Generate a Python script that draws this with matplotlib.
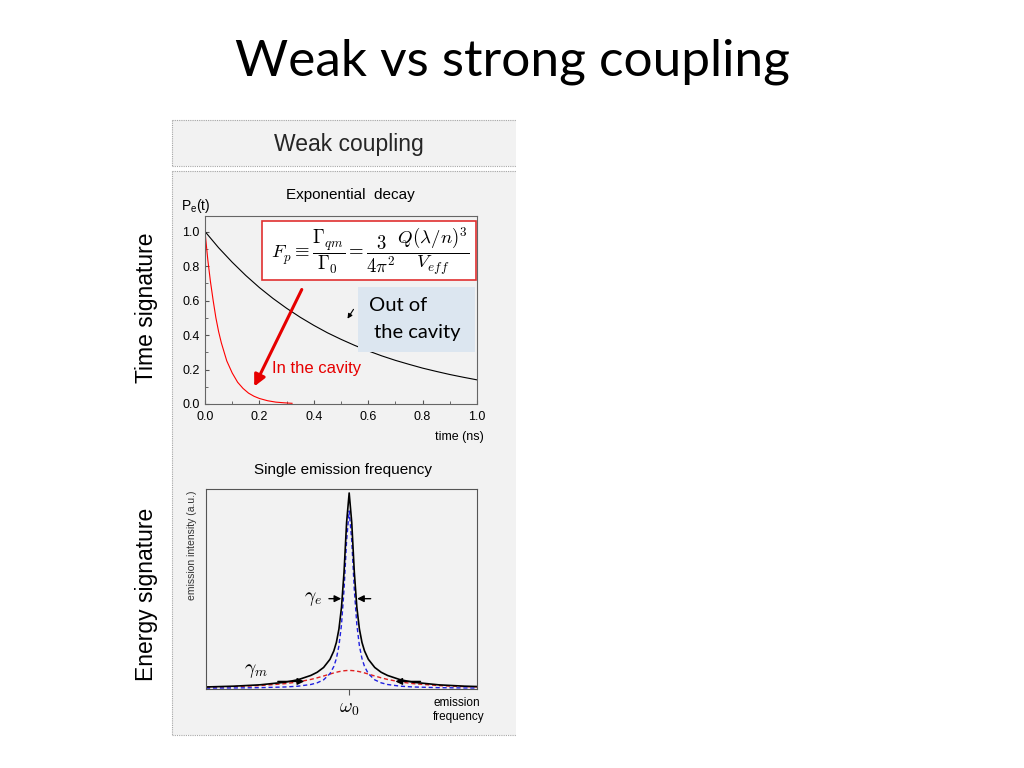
import matplotlib.pyplot as plt
from matplotlib.patches import Rectangle, FancyArrowPatch
from matplotlib.lines import Line2D
from matplotlib.ticker import MultipleLocator

# --- data ---
# exponential decay, out of the cavity (black)
t_out = [0.0, 0.05, 0.10, 0.15, 0.20, 0.25, 0.30, 0.35, 0.40, 0.45, 0.50,
         0.55, 0.60, 0.65, 0.70, 0.75, 0.80, 0.85, 0.90, 0.95, 1.00]
p_out = [1.0, 0.906, 0.822, 0.745, 0.675, 0.612, 0.555, 0.503, 0.456, 0.413, 0.375,
         0.340, 0.308, 0.279, 0.253, 0.230, 0.208, 0.189, 0.171, 0.155, 0.14]

# exponential decay, in the cavity (red)
t_in = [0.0, 0.01, 0.02, 0.03, 0.04, 0.05, 0.06, 0.08, 0.10, 0.12, 0.14,
        0.16, 0.18, 0.20, 0.23, 0.26, 0.29, 0.32]
p_in = [1.0, 0.84, 0.71, 0.60, 0.50, 0.42, 0.355, 0.25, 0.18, 0.126, 0.09,
        0.063, 0.045, 0.032, 0.019, 0.011, 0.007, 0.004]

# emission spectrum (frequency offset from omega_0, arbitrary units)
freq = [-1.12, -0.9, -0.7, -0.5, -0.4, -0.3, -0.25, -0.2, -0.15, -0.12, -0.1,
        -0.08, -0.06, -0.04, -0.02, 0.0, 0.02, 0.04, 0.06, 0.08, 0.1, 0.12,
        0.15, 0.2, 0.25, 0.3, 0.4, 0.5, 0.7, 0.9, 1.12]
narrow_half = [0.89, 0.743, 0.497, 0.320, 0.214, 0.150, 0.110, 0.074, 0.043,
               0.028, 0.0196, 0.0111, 0.0072, 0.0037, 0.0022, 0.0014]
broad_half = [0.09, 0.0896, 0.0884, 0.0865, 0.084, 0.081, 0.0776, 0.072, 0.0623,
              0.0531, 0.045, 0.0324, 0.0238, 0.0141, 0.009, 0.0058]
total_half = [0.98, 0.833, 0.585, 0.407, 0.298, 0.231, 0.188, 0.146, 0.105,
              0.081, 0.065, 0.0435, 0.031, 0.0178, 0.0112, 0.0072]
narrow = narrow_half[:0:-1] + narrow_half
broad = broad_half[:0:-1] + broad_half
total = total_half[:0:-1] + total_half

panel_gray = "#f2f2f2"
border_gray = "#a6a6a6"
arial = "Liberation Sans"

fig = plt.figure(figsize=(10.24, 7.68), dpi=100)


def fx(px):
    return px / 1024


def fy(py):
    return 1 - py / 768


# slide title
fig.text(0.5, fy(62), "Weak vs strong coupling", ha="center", va="center",
         fontsize=37, family="Lato")

# gray panels
fig.patches.append(Rectangle((fx(172), fy(166)), fx(344), 46 / 768,
                             transform=fig.transFigure, facecolor=panel_gray,
                             edgecolor="none", zorder=-2))
fig.patches.append(Rectangle((fx(172), fy(735)), fx(344), 564 / 768,
                             transform=fig.transFigure, facecolor=panel_gray,
                             edgecolor="none", zorder=-2))
for (x0, y0, x1, y1) in [(172, 120, 516, 120), (172, 120, 172, 166), (172, 166, 516, 166),
                         (172, 171, 516, 171), (172, 171, 172, 735), (172, 735, 516, 735)]:
    fig.lines.append(Line2D([fx(x0), fx(x1)], [fy(y0), fy(y1)], transform=fig.transFigure,
                            color=border_gray, lw=0.8, ls=(0, (1, 1)), zorder=-1))

fig.text(fx(349), fy(145), "Weak coupling", ha="center", va="center",
         fontsize=16.5, family=arial, color="#262626")

fig.text(fx(146), fy(308), "Time signature", ha="center", va="center",
         rotation=90, fontsize=16.5, family=arial)
fig.text(fx(146), fy(594), "Energy signature", ha="center", va="center",
         rotation=90, fontsize=16.5, family=arial)

# --- top: exponential decay ---
ax1 = fig.add_axes([fx(205), fy(404), fx(272), 188 / 768])
ax1.set_facecolor(panel_gray)
ax1.plot(t_out, p_out, color="black", lw=0.8)
ax1.plot(t_in, p_in, color="red", lw=0.8)
ax1.set_xlim(0, 1.0)
ax1.set_ylim(0, 1.09)
ax1.xaxis.set_major_locator(MultipleLocator(0.2))
ax1.xaxis.set_minor_locator(MultipleLocator(0.1))
ax1.yaxis.set_major_locator(MultipleLocator(0.2))
ax1.yaxis.set_minor_locator(MultipleLocator(0.1))
ax1.set_yticks([0.0, 0.2, 0.4, 0.6, 0.8, 1.0])
ax1.xaxis.set_major_formatter(plt.FormatStrFormatter("%.1f"))
ax1.yaxis.set_major_formatter(plt.FormatStrFormatter("%.1f"))
ax1.tick_params(which="both", direction="in", labelsize=9, color="#555555")
ax1.tick_params(which="major", length=3)
ax1.tick_params(which="minor", length=2)
ax1.tick_params(axis="x", pad=5)
ax1.tick_params(axis="y", pad=4)
for lab in ax1.get_xticklabels() + ax1.get_yticklabels():
    lab.set_family(arial)
for side in ax1.spines.values():
    side.set_color("#666666")
    side.set_linewidth(0.8)

fig.text(fx(350), fy(195), "Exponential  decay", ha="center", va="center",
         fontsize=11, family=arial)
fig.text(fx(181), fy(206), r"P$_\mathregular{e}$(t)", ha="left", va="center",
         fontsize=10, family=arial)
fig.text(fx(484), fy(437), "time (ns)", ha="right", va="center",
         fontsize=9, family=arial)

formula = (r"$F_p \equiv \dfrac{\Gamma_{qm}}{\Gamma_0} = "
           r"\dfrac{3}{4\pi^2}\dfrac{Q(\lambda/n)^3}{V_{eff}}$")
fig.patches.append(Rectangle((fx(262), fy(280)), fx(214), 59 / 768,
                             transform=fig.transFigure, facecolor="white",
                             edgecolor="#e03030", lw=1.2, zorder=3))
fig.text(fx(370), fy(251), formula, ha="center", va="center", fontsize=13.5,
         math_fontfamily="cm", zorder=4)

fig.patches.append(Rectangle((fx(358), fy(352)), fx(117), 65 / 768,
                             transform=fig.transFigure, facecolor="#dce6f0",
                             edgecolor="none", zorder=3))
fig.text(fx(369), fy(319), "Out of\n the cavity", ha="left", va="center",
         fontsize=14.5, family="Lato", linespacing=1.65, zorder=4)

fig.patches.append(FancyArrowPatch((fx(355), fy(307)), (fx(346), fy(321)),
                                   transform=fig.transFigure, arrowstyle="-|>",
                                   mutation_scale=7, color="black", lw=0.8, zorder=4))
fig.patches.append(FancyArrowPatch((fx(303), fy(287)), (fx(253), fy(389)),
                                   transform=fig.transFigure, arrowstyle="-|>",
                                   mutation_scale=17, color="#e60000", lw=2.2, zorder=4))
fig.text(fx(272), fy(369), "In the cavity", ha="left", va="center",
         fontsize=12, family=arial, color="#e60000", zorder=4)

# --- bottom: emission spectrum ---
ax2 = fig.add_axes([fx(206), fy(689), fx(271), 200 / 768])
ax2.set_facecolor(panel_gray)
ax2.plot(freq, broad, color="#e02020", lw=1.0, ls=(0, (3, 2)))
ax2.plot(freq, narrow, color="#2020e0", lw=1.0, ls=(0, (3, 2)))
ax2.plot(freq, total, color="black", lw=1.2)
ax2.set_xlim(-1.12, 1.0)
ax2.set_ylim(-0.003, 1.0)
ax2.set_xticks([0.0])
ax2.set_xticklabels([r"$\omega_0$"], fontsize=14, math_fontfamily="cm")
ax2.set_yticks([])
ax2.tick_params(axis="x", direction="out", length=4, pad=3, color="#555555")
for side in ax2.spines.values():
    side.set_color("#555555")
    side.set_linewidth(0.8)

fig.text(fx(343), fy(470), "Single emission frequency", ha="center", va="center",
         fontsize=11, family=arial)
fig.text(fx(192), fy(490), "emission intensity (a.u.)", ha="center", va="top",
         rotation=90, fontsize=7.5, family=arial, color="#333333")
fig.text(fx(433), fy(710), "emission\nfrequency", ha="left", va="center",
         fontsize=8.5, family=arial, linespacing=1.2)

ax2.text(-0.28, 0.45, r"$\gamma_e$", ha="center", va="center", fontsize=14,
         math_fontfamily="cm")
ax2.annotate("", xy=(-0.04, 0.45), xytext=(-0.18, 0.45),
             arrowprops=dict(arrowstyle="-|>", color="black", lw=1.0, mutation_scale=10))
ax2.annotate("", xy=(0.04, 0.45), xytext=(0.19, 0.45),
             arrowprops=dict(arrowstyle="-|>", color="black", lw=1.0, mutation_scale=10))
ax2.text(-0.73, 0.09, r"$\gamma_m$", ha="center", va="center", fontsize=14,
         math_fontfamily="cm")
ax2.annotate("", xy=(-0.33, 0.035), xytext=(-0.58, 0.035),
             arrowprops=dict(arrowstyle="-|>", color="black", lw=1.0, mutation_scale=10))
ax2.annotate("", xy=(0.34, 0.035), xytext=(0.58, 0.035),
             arrowprops=dict(arrowstyle="-|>", color="black", lw=1.0, mutation_scale=10))

fig.savefig("out.png", dpi=100, facecolor="white")
